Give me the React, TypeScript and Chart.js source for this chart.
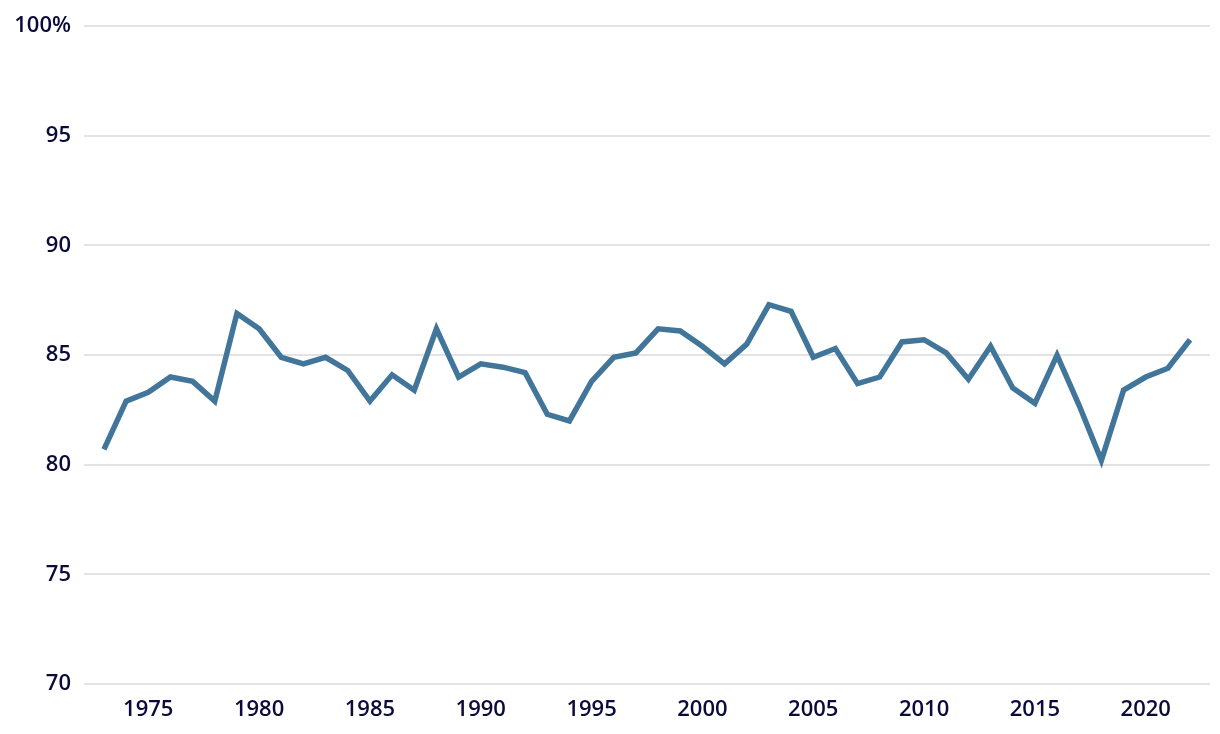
import React, { useEffect, useRef } from "react";
import { Chart, registerables } from "chart.js";

Chart.register(...registerables);

const years: number[] = [
  1973, 1974, 1975, 1976, 1977, 1978, 1979, 1980, 1981, 1982,
  1983, 1984, 1985, 1986, 1987, 1988, 1989, 1990, 1991, 1992,
  1993, 1994, 1995, 1996, 1997, 1998, 1999, 2000, 2001, 2002,
  2003, 2004, 2005, 2006, 2007, 2008, 2009, 2010, 2011, 2012,
  2013, 2014, 2015, 2016, 2017, 2018, 2019, 2020, 2021, 2022,
];
const values: number[] = [
  80.7, 82.9, 83.3, 84.0, 83.8, 82.9, 86.9, 86.2, 84.9, 84.6,
  84.9, 84.3, 82.9, 84.1, 83.4, 86.2, 84.0, 84.6, 84.45, 84.2,
  82.3, 82.0, 83.8, 84.9, 85.1, 86.2, 86.1, 85.4, 84.6, 85.5,
  87.3, 87.0, 84.9, 85.3, 83.7, 84.0, 85.6, 85.7, 85.1, 83.9,
  85.4, 83.5, 82.8, 85.0, 82.7, 80.2, 83.4, 84.0, 84.4, 85.7,
];
const xTicks: number[] = [1975, 1980, 1985, 1990, 1995, 2000, 2005, 2010, 2015, 2020];
const yTicks: number[] = [70, 75, 80, 85, 90, 95, 100];

export default function App() {
  const ref = useRef<HTMLCanvasElement | null>(null);
  useEffect(() => {
    if (!ref.current) return;
    const font = { family: "'Open Sans', sans-serif", size: 22, weight: 600 as any };
    const color = "#0b0b3b";
    const chart = new Chart(ref.current, {
      type: "line",
      data: {
        datasets: [
          {
            data: years.map((y, i) => ({ x: y, y: values[i] })),
            borderColor: "#41769a",
            borderWidth: 5.5,
            pointRadius: 0,
            tension: 0,
            fill: false,
          },
        ],
      },
      options: {
        animation: false,
        responsive: false,
        layout: { padding: { top: 23, right: 10, left: 0, bottom: 0 } },
        plugins: { legend: { display: false }, tooltip: { enabled: false } },
        scales: {
          x: {
            type: "linear",
            min: 1972.1,
            max: 2022.9,
            grid: { display: false, drawTicks: false },
            border: { display: false },
            afterBuildTicks: (s: any) => {
              s.ticks = xTicks.map((v) => ({ value: v }));
            },
            afterFit: (s: any) => {
              s.height = 50;
            },
            ticks: {
              font,
              color,
              padding: 13,
              maxRotation: 0,
              callback: (v: any) => String(v),
            },
          },
          y: {
            min: 70,
            max: 100,
            grid: { color: "#e3e3e3", lineWidth: 2, drawTicks: false },
            border: { display: false },
            afterBuildTicks: (s: any) => {
              s.ticks = yTicks.map((v) => ({ value: v }));
            },
            afterFit: (s: any) => {
              s.width = 84;
            },
            ticks: {
              font,
              color,
              padding: 13,
              callback: (v: any) => (v === 100 ? "100%" : String(v)),
            },
          },
        },
      },
    });
    return () => chart.destroy();
  }, []);
  return (
    <div style={{ position: "fixed", left: 0, top: 0, width: 1220, height: 734, background: "#fff" }}>
      <canvas ref={ref} width={1220} height={734} style={{ width: 1220, height: 734 }} />
    </div>
  );
}
